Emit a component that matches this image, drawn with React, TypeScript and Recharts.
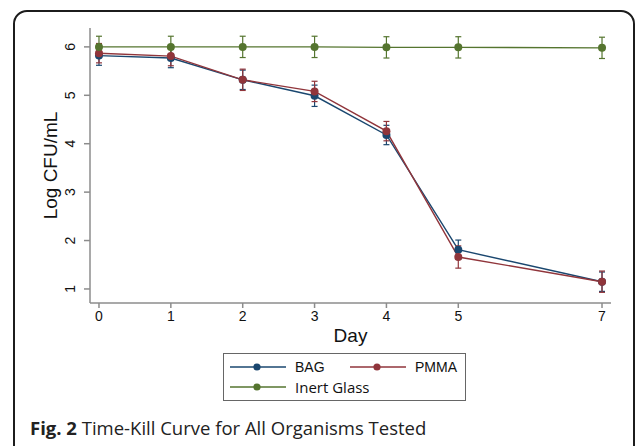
import { LineChart, Line, XAxis, YAxis, ErrorBar, Legend } from "recharts";

// values (log CFU/mL, mean ± error)
const days = [0, 1, 2, 3, 4, 5, 7];
const bagValues = [5.82, 5.77, 5.32, 4.99, 4.18, 1.81, 1.15];
const bagErrors = [0.2, 0.2, 0.2, 0.22, 0.2, 0.2, 0.2];
const pmmaValues = [5.87, 5.81, 5.32, 5.08, 4.26, 1.66, 1.15];
const pmmaErrors = [0.2, 0.2, 0.22, 0.21, 0.2, 0.23, 0.22];
const glassValues = [6.0, 6.0, 6.0, 6.0, 5.99, 5.99, 5.98];
const glassErrors = [0.22, 0.22, 0.22, 0.22, 0.22, 0.22, 0.22];

const xTicks = [0, 1, 2, 3, 4, 5, 7];
const yTicks = [1, 2, 3, 4, 5, 6];

const NAVY = "#1a476f";
const MAROON = "#90353b";
const GREEN = "#55752f";
const AXIS = "#8c8c8c";
const SANS = "'Liberation Sans', Arial, sans-serif";
const CAPTION_FONT = "'Open Sans', sans-serif";

const data = days.map((day, i) => ({
  day,
  bag: bagValues[i],
  bagErr: bagErrors[i],
  pmma: pmmaValues[i],
  pmmaErr: pmmaErrors[i],
  glass: glassValues[i],
  glassErr: glassErrors[i],
}));

function YTick(props: any) {
  const { y, payload } = props;
  const cx = 70;
  return (
    <text
      x={cx}
      y={y}
      dy="0.36em"
      transform={`rotate(-90, ${cx}, ${y})`}
      textAnchor="middle"
      fontFamily={SANS}
      fontSize={14}
      fill="#111"
    >
      {payload.value}
    </text>
  );
}

function LegendSwatch({ color }: { color: string }) {
  return (
    <svg width={56} height={10} style={{ display: "block", flex: "none" }}>
      <line x1={0} y1={5} x2={56} y2={5} stroke={color} strokeWidth={1.4} />
      <circle cx={27} cy={5} r={3.6} fill={color} />
    </svg>
  );
}

function LegendBox(props: any) {
  const items: any[] = props.payload ?? [];
  // recharts sorts the payload by name, so pick the entries out by name
  const byName = (n: string) => items.find((p) => p.value === n);
  const item = (p: any, font: string, size: number, width?: number) =>
    p ? (
      <div
        key={p.value}
        style={{ display: "flex", alignItems: "center", width, gap: 9, flex: "none" }}
      >
        <LegendSwatch color={p.color} />
        <span
          style={{
            fontFamily: font,
            fontSize: size,
            color: "#111",
            lineHeight: "20px",
            whiteSpace: "nowrap",
          }}
        >
          {p.value}
        </span>
      </div>
    ) : null;
  return (
    <div
      style={{
        position: "relative",
        boxSizing: "border-box",
        width: 243,
        height: 48,
        border: "1.5px solid #666",
        padding: "3px 0 0 6px",
        background: "#fff",
      }}
    >
      <div style={{ display: "flex", height: 20 }}>
        {item(byName("BAG"), SANS, 14, 120)}
        {item(byName("PMMA"), SANS, 14)}
      </div>
      <div style={{ display: "flex", height: 20 }}>
        {item(byName("Inert Glass"), CAPTION_FONT, 15)}
      </div>
    </div>
  );
}

export default function App() {
  return (
    <div
      style={{
        position: "absolute",
        left: 0,
        top: 0,
        width: 636,
        height: 446,
        overflow: "hidden",
        background: "#fff",
      }}
    >
      <div
        style={{
          position: "absolute",
          left: 13,
          top: 10,
          width: 622,
          height: 460,
          boxSizing: "border-box",
          border: "2px solid #1c1c1c",
          borderRadius: 14,
        }}
      />
      <LineChart
        width={636}
        height={446}
        data={data}
        margin={{ top: 28, right: 25, left: 30, bottom: 113 }}
      >
        <XAxis
          dataKey="day"
          type="number"
          domain={[-0.125, 7.125]}
          ticks={xTicks}
          allowDataOverflow
          height={30}
          stroke={AXIS}
          strokeWidth={1.5}
          tickSize={5}
          tickMargin={3}
          tick={{ fill: "#111", fontSize: 14, fontFamily: SANS }}
          label={{
            content: (p: any) => {
              const vb = p.viewBox;
              return (
                <text
                  x={vb.x + vb.width / 2}
                  y={342}
                  textAnchor="middle"
                  fontFamily={SANS}
                  fontSize={19}
                  fill="#111"
                >
                  Day
                </text>
              );
            },
          }}
        />
        <YAxis
          type="number"
          domain={[0.71, 6.39]}
          ticks={yTicks}
          allowDataOverflow
          width={60}
          stroke={AXIS}
          strokeWidth={1.5}
          tickSize={6}
          tick={<YTick />}
          label={{
            content: (p: any) => {
              const vb = p.viewBox;
              const cy = vb.y + vb.height / 2;
              return (
                <text
                  x={50}
                  y={cy}
                  dy="0.36em"
                  transform={`rotate(-90, 50, ${cy})`}
                  textAnchor="middle"
                  fontFamily={SANS}
                  fontSize={19}
                  fill="#111"
                >
                  Log CFU/mL
                </text>
              );
            },
          }}
        />
        <Legend
          layout="horizontal"
          verticalAlign="middle"
          align="center"
          wrapperStyle={{ left: 223, top: 353, width: 243, height: 48 }}
          content={<LegendBox />}
        />
        <Line
          name="BAG"
          dataKey="bag"
          stroke={NAVY}
          strokeWidth={1.4}
          dot={{ r: 4, fill: NAVY, stroke: NAVY, strokeWidth: 0 }}
          activeDot={false}
          isAnimationActive={false}
        >
          <ErrorBar dataKey="bagErr" direction="y" width={3} stroke={NAVY} strokeWidth={1.2} />
        </Line>
        <Line
          name="PMMA"
          dataKey="pmma"
          stroke={MAROON}
          strokeWidth={1.4}
          dot={{ r: 4, fill: MAROON, stroke: MAROON, strokeWidth: 0 }}
          activeDot={false}
          isAnimationActive={false}
        >
          <ErrorBar dataKey="pmmaErr" direction="y" width={3} stroke={MAROON} strokeWidth={1.2} />
        </Line>
        <Line
          name="Inert Glass"
          dataKey="glass"
          stroke={GREEN}
          strokeWidth={1.4}
          dot={{ r: 4, fill: GREEN, stroke: GREEN, strokeWidth: 0 }}
          activeDot={false}
          isAnimationActive={false}
        >
          <ErrorBar dataKey="glassErr" direction="y" width={3} stroke={GREEN} strokeWidth={1.2} />
        </Line>
      </LineChart>
      <div
        style={{
          position: "absolute",
          left: 30,
          top: 416,
          fontFamily: CAPTION_FONT,
          fontSize: 18.5,
          color: "#222",
          whiteSpace: "nowrap",
          lineHeight: "24px",
        }}
      >
        <b>Fig. 2</b> Time-Kill Curve for All Organisms Tested
      </div>
    </div>
  );
}
